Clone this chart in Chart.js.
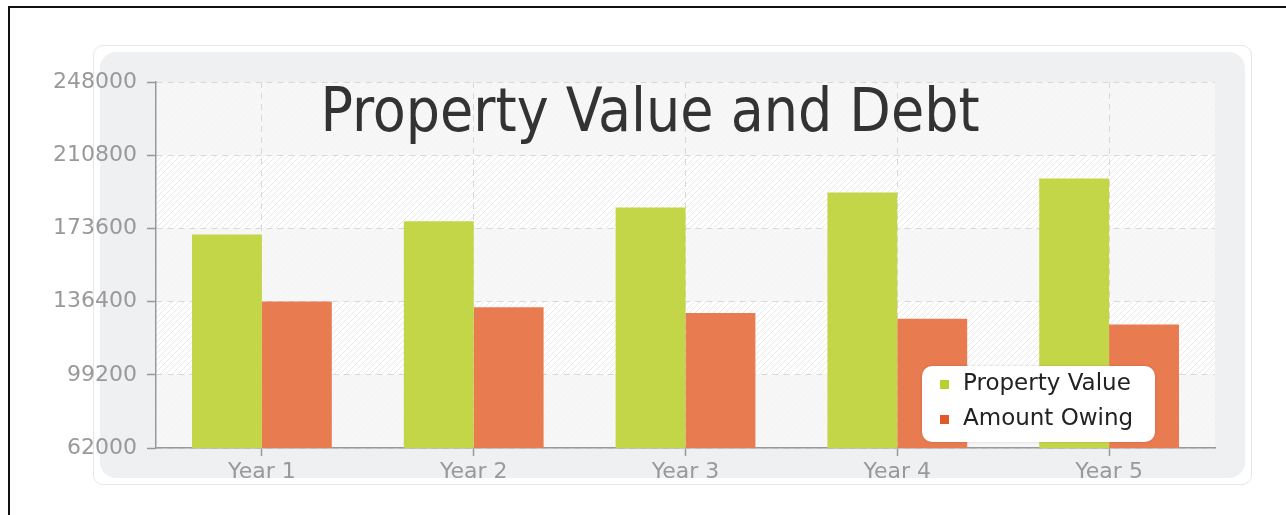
<!DOCTYPE html>
<html>
<head>
<meta charset="utf-8">
<script src="https://cdn.jsdelivr.net/npm/chart.js@4"></script>
<style>
  body { margin: 0; background: #fff; overflow: hidden; }
  .frame { position: absolute; left: 8px; top: 6px; width: 1400px; height: 600px; border: 2px solid #111; }
  .outer { position: absolute; left: 93px; top: 45px; width: 1157px; height: 438px; border: 1px solid #e6e6e6; border-radius: 10px; background: #fff; }
  .inner { position: absolute; left: 100px; top: 52px; width: 1145px; height: 426px; border-radius: 16px; background: #eff0f2; }
  .wrap { position: absolute; left: 0; top: 0; width: 1286px; height: 515px; }
</style>
</head>
<body>
<div class="frame"></div>
<div class="outer"></div>
<div class="inner"></div>
<div class="wrap"><canvas id="propertyChart" width="1286" height="515"></canvas></div>
<script>
const years = ["Year 1", "Year 2", "Year 3", "Year 4", "Year 5"];
const propertyValue = [170500, 177200, 184200, 191800, 199000];
const amountOwing = [136500, 133500, 130600, 127700, 124700];
const yTicks = [62000, 99200, 136400, 173600, 210800, 248000];
const chartTitle = "Property Value and Debt";

// diagonal hatch used behind the bars
function makeHatch() {
  const c = document.createElement("canvas");
  c.width = 6; c.height = 6;
  const g = c.getContext("2d");
  g.fillStyle = "#ffffff";
  g.fillRect(0, 0, 6, 6);
  g.strokeStyle = "rgba(0,0,0,0.09)";
  g.lineWidth = 1;
  g.beginPath();
  g.moveTo(0, 6); g.lineTo(6, 0);
  g.moveTo(-1, 1); g.lineTo(1, -1);
  g.moveTo(5, 7); g.lineTo(7, 5);
  g.stroke();
  return g.createPattern(c, "repeat");
}

const plotBackground = {
  id: "plotBackground",
  beforeDraw(chart) {
    const { ctx, chartArea: a, scales } = chart;
    ctx.save();
    ctx.fillStyle = makeHatch();
    ctx.fillRect(a.left, a.top, a.width, a.height);
    ctx.fillStyle = "rgba(245,245,245,0.8)";
    for (let i = 0; i < yTicks.length - 1; i += 2) {
      const y1 = scales.y.getPixelForValue(yTicks[i]);
      const y2 = scales.y.getPixelForValue(yTicks[i + 1]);
      ctx.fillRect(a.left, y2, a.width, y1 - y2);
    }
    ctx.restore();
  }
};

const overlay = {
  id: "overlay",
  afterDraw(chart) {
    const { ctx } = chart;
    ctx.save();
    // title inside the plot
    ctx.fillStyle = "#333";
    ctx.font = "60px 'DejaVu Sans Condensed', 'DejaVu Sans'";
    ctx.textAlign = "center";
    ctx.textBaseline = "alphabetic";
    ctx.fillText(chartTitle, 650, 131);

    // legend box
    const bx = 922, by = 366, bw = 233, bh = 76;
    ctx.fillStyle = "#fff";
    ctx.shadowColor = "rgba(0,0,0,0.15)";
    ctx.shadowBlur = 3;
    ctx.beginPath();
    ctx.roundRect(bx, by, bw, bh, 10);
    ctx.fill();
    ctx.shadowColor = "transparent";
    const marks = ["#b8d02c", "#e2582b"];
    ctx.font = "23px 'DejaVu Sans'";
    ctx.textAlign = "left";
    ctx.textBaseline = "middle";
    chart.data.datasets.forEach((ds, i) => {
      const cy = by + 18 + i * 35;
      ctx.fillStyle = marks[i];
      ctx.fillRect(bx + 18, cy - 4, 9, 9);
      ctx.fillStyle = "#222";
      ctx.fillText(ds.label, bx + 41, cy);
    });
    ctx.restore();
  }
};

new Chart(document.getElementById("propertyChart"), {
  type: "bar",
  data: {
    labels: years,
    datasets: [
      { label: "Property Value", data: propertyValue, backgroundColor: "#c3d648" },
      { label: "Amount Owing", data: amountOwing, backgroundColor: "#e97b50" }
    ]
  },
  options: {
    responsive: false,
    animation: false,
    events: [],
    layout: { padding: { left: 0, top: 82, right: 71, bottom: 0 } },
    datasets: { bar: { categoryPercentage: 0.66, barPercentage: 1.0 } },
    plugins: { legend: { display: false }, title: { display: false }, tooltip: { enabled: false } },
    scales: {
      x: {
        afterFit(s) { s.height = 515 - 82 - 366; },
        grid: { offset: false, color: "#d8d8d8", tickColor: "#999", tickLength: 8, tickWidth: 1.5 },
        border: { color: "#999", width: 1.5, dash: [6, 5] },
        ticks: { color: "#999", padding: 3, font: { family: "DejaVu Sans", size: 22 } }
      },
      y: {
        min: 62000,
        max: 248000,
        afterFit(s) { s.width = 156; },
        afterBuildTicks(s) { s.ticks = yTicks.map(v => ({ value: v })); },
        grid: { color: "#d8d8d8", tickColor: "#999", tickLength: 9, tickWidth: 1.5 },
        border: { color: "#999", width: 1.5, dash: [6, 5] },
        ticks: {
          color: "#999", padding: 10, font: { family: "DejaVu Sans", size: 22 },
          callback: v => String(v)
        }
      }
    }
  },
  plugins: [plotBackground, overlay]
});
</script>
</body>
</html>
